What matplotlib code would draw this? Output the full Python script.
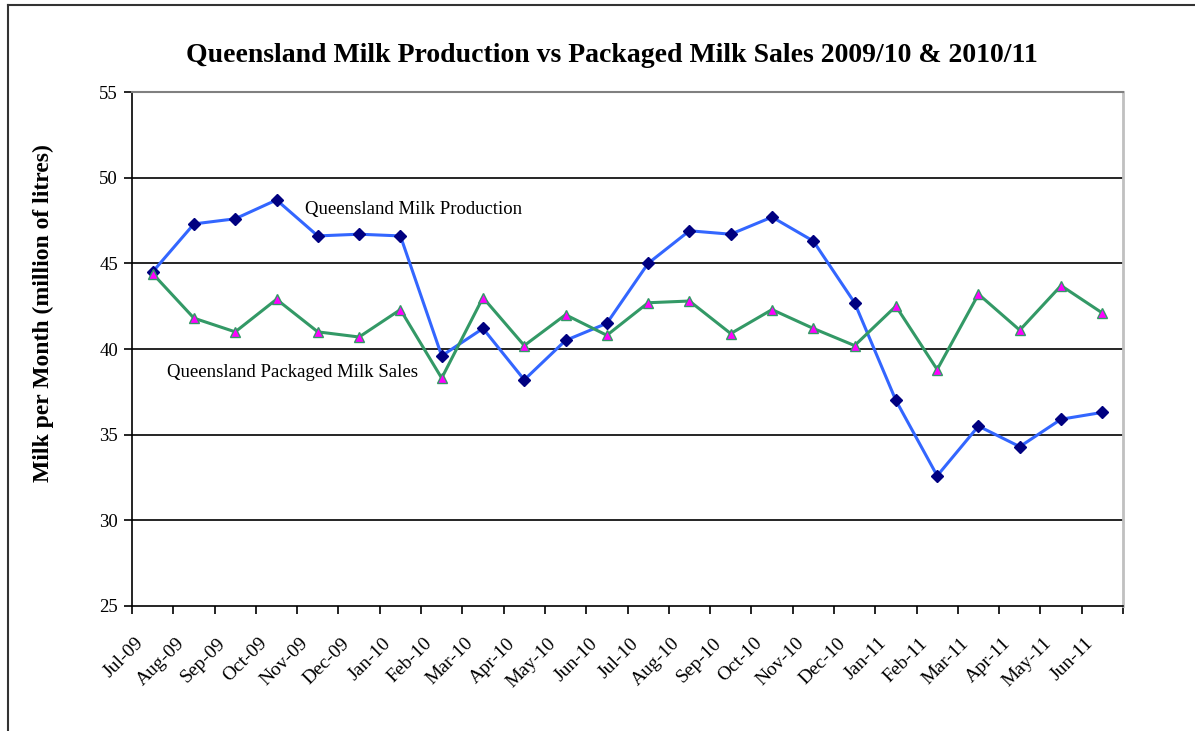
import matplotlib
matplotlib.use("Agg")
import matplotlib.pyplot as plt
from matplotlib.lines import Line2D
from matplotlib.transforms import ScaledTranslation

# monthly figures, million litres
months = ["Jul-09", "Aug-09", "Sep-09", "Oct-09", "Nov-09", "Dec-09",
          "Jan-10", "Feb-10", "Mar-10", "Apr-10", "May-10", "Jun-10",
          "Jul-10", "Aug-10", "Sep-10", "Oct-10", "Nov-10", "Dec-10",
          "Jan-11", "Feb-11", "Mar-11", "Apr-11", "May-11", "Jun-11"]
production = [44.5, 47.3, 47.6, 48.7, 46.6, 46.7,
              46.6, 39.6, 41.2, 38.2, 40.5, 41.5,
              45.0, 46.9, 46.7, 47.7, 46.3, 42.7,
              37.0, 32.6, 35.5, 34.3, 35.9, 36.3]
sales = [44.4, 41.8, 41.0, 42.9, 41.0, 40.7,
         42.3, 38.3, 43.0, 40.2, 42.0, 40.8,
         42.7, 42.8, 40.9, 42.3, 41.2, 40.2,
         42.5, 38.8, 43.2, 41.1, 43.7, 42.1]
yticks = [25, 30, 35, 40, 45, 50, 55]

plt.rcParams['font.family'] = ['Liberation Serif', 'DejaVu Serif']

W, H = 1195, 731
fig = plt.figure(figsize=(W / 100, H / 100), dpi=100)
ax = fig.add_axes([132 / W, 1 - 606 / H, 991 / W, 514 / H])

x = list(range(len(months)))

for y in yticks[1:-1]:
    ax.axhline(y, color='black', lw=1.2, zorder=1)

ax.plot(x, production, color='#3366FF', lw=2.2, marker='D', ms=6.5,
        mfc='#000080', mec='#000080', zorder=3)
ax.plot(x, sales, color='#339966', lw=2.2, marker='^', ms=7.5,
        mfc='#FF00FF', mec='#339966', mew=1, zorder=3)

ax.set_xlim(-0.5, len(months) - 0.5)
ax.set_ylim(25, 55)

ax.set_yticks(yticks)
ax.set_yticklabels([str(v) for v in yticks], fontsize=13.5)
ax.tick_params(axis='y', direction='out', length=6, width=1.2, pad=4)

# ticks between categories, labels on the categories
ax.set_xticks([i - 0.5 for i in range(len(months) + 1)])
ax.set_xticklabels([])
ax.tick_params(axis='x', which='major', direction='out', length=6, width=1.2)
ax.set_xticks(x, minor=True)
ax.set_xticklabels(months, minor=True, fontsize=14, rotation=45,
                   ha='right', va='center', rotation_mode='anchor')
ax.tick_params(axis='x', which='minor', length=0, pad=25)
shift = ScaledTranslation(-12 / 100, 0, fig.dpi_scale_trans)
for lbl in ax.get_xticklabels(minor=True):
    lbl.set_transform(lbl.get_transform() + shift)

ax.spines['left'].set_color('black')
ax.spines['left'].set_linewidth(1.2)
ax.spines['bottom'].set_color('black')
ax.spines['bottom'].set_linewidth(1.2)
ax.spines['top'].set_color('#808080')
ax.spines['top'].set_linewidth(1.5)
ax.spines['right'].set_color('#c0c0c0')
ax.spines['right'].set_linewidth(2)

ax.set_ylabel("Milk per Month (million of litres)", fontsize=17, fontweight='bold')
ax.yaxis.set_label_coords(-0.079, 0.57)

ax.text(3.69, 48.17, "Queensland Milk Production", fontsize=13.5, ha='left', va='center')
ax.text(0.35, 38.65, "Queensland Packaged Milk Sales", fontsize=13.5, ha='left', va='center')

fig.text(612 / W, 1 - 55 / H,
         "Queensland Milk Production vs Packaged Milk Sales 2009/10 & 2010/11",
         fontsize=20, fontweight='bold', ha='center', va='center')

# chart area frame
fig.add_artist(Line2D([8 / W, 8 / W], [0, 1 - 5 / H], color='#333333', lw=1.5))
fig.add_artist(Line2D([8 / W, 1], [1 - 5 / H, 1 - 5 / H], color='#333333', lw=1.5))

fig.savefig("out.png", dpi=100)
